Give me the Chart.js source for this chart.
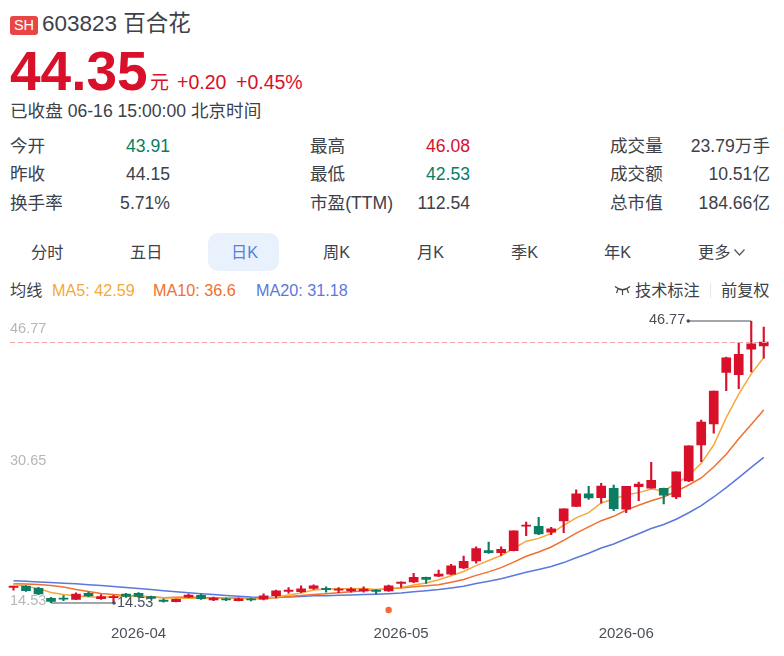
<!DOCTYPE html>
<html lang="zh-CN">
<head>
<meta charset="utf-8">
<title>603823 百合花 日K</title>
<script src="https://cdn.jsdelivr.net/npm/chart.js@4"></script>
<style>
  html, body { margin: 0; padding: 0; background: #fff; }
  body { position: relative; width: 784px; height: 656px; overflow: hidden;
         font-family: "Liberation Sans", "Noto Sans CJK SC", sans-serif; color: #3d4149; }
  .t { position: absolute; white-space: nowrap; line-height: 1; }
  .r { text-align: right; }
  .red { color: #d8102a; }
  .green { color: #0b7d62; }
  .q { font-size: 17.6px; }
  .m { font-size: 16.2px; }
  #badge { left: 10px; top: 16px; width: 28px; height: 19px; line-height: 19px; background: #e84545;
           border-radius: 3px; color: #fff; font-size: 14.5px; text-align: center; }
  #pill { position: absolute; left: 208px; top: 233px; width: 71px; height: 38px; background: #e8f1fc; border-radius: 10px; }
  #kline { position: absolute; left: 0; top: 300px; }
</style>
</head>
<body>
<div id="badge" class="t">SH</div>
<div class="t" style="left:42px;top:13px;font-size:22.5px">603823 百合花</div>
<div class="t red" style="left:10px;top:44px;font-size:55px;font-weight:bold">44.35</div>
<div class="t red" style="left:150px;top:73px;font-size:19px">元</div>
<div class="t red" style="left:177px;top:73px;font-size:19.5px">+0.20</div>
<div class="t red" style="left:236px;top:73px;font-size:19.5px">+0.45%</div>
<div class="t" style="left:10px;top:103px;font-size:17.6px">已收盘 06-16 15:00:00 北京时间</div>

<div class="t q" style="left:10px;top:138px">今开</div>
<div class="t q" style="left:10px;top:166px">昨收</div>
<div class="t q" style="left:10px;top:195px">换手率</div>
<div class="t q r green" style="right:614px;top:138px">43.91</div>
<div class="t q r" style="right:614px;top:166px">44.15</div>
<div class="t q r" style="right:614px;top:195px">5.71%</div>
<div class="t q" style="left:310px;top:138px">最高</div>
<div class="t q" style="left:310px;top:166px">最低</div>
<div class="t q" style="left:310px;top:195px">市盈(TTM)</div>
<div class="t q r red" style="right:314px;top:138px">46.08</div>
<div class="t q r green" style="right:314px;top:166px">42.53</div>
<div class="t q r" style="right:314px;top:195px">112.54</div>
<div class="t q" style="left:610px;top:138px">成交量</div>
<div class="t q" style="left:610px;top:166px">成交额</div>
<div class="t q" style="left:610px;top:195px">总市值</div>
<div class="t q r" style="right:14px;top:138px">23.79万手</div>
<div class="t q r" style="right:14px;top:166px">10.51亿</div>
<div class="t q r" style="right:14px;top:195px">184.66亿</div>

<div id="pill"></div>
<div class="t m" style="left:31px;top:244px">分时</div>
<div class="t m" style="left:130px;top:244px">五日</div>
<div class="t m" style="left:231px;top:244px;color:#5a7fd6">日K</div>
<div class="t m" style="left:323px;top:244px">周K</div>
<div class="t m" style="left:417px;top:244px">月K</div>
<div class="t m" style="left:511px;top:244px">季K</div>
<div class="t m" style="left:604px;top:244px">年K</div>
<div class="t m" style="left:698px;top:244px">更多</div>
<svg style="position:absolute;left:733px;top:248px" width="13" height="9" viewBox="0 0 13 9">
  <path d="M1.5 1.5 L6.5 7 L11.5 1.5" fill="none" stroke="#555" stroke-width="1.2"/>
</svg>

<div class="t m" style="left:10px;top:282px">均线</div>
<div class="t m" style="left:52px;top:282px;color:#f5a93b">MA5: 42.59</div>
<div class="t m" style="left:153px;top:282px;color:#f0702f">MA10: 36.6</div>
<div class="t m" style="left:256px;top:282px;color:#5b78dc">MA20: 31.18</div>
<svg style="position:absolute;left:614px;top:285px" width="17" height="11" viewBox="0 0 17 11">
  <path d="M1 1.5 Q8.5 8 16 1.5" fill="none" stroke="#444" stroke-width="1.3"/>
  <path d="M8.5 5 V10 M4 4 L2.5 8 M13 4 L14.5 8" fill="none" stroke="#444" stroke-width="1.2"/>
</svg>
<div class="t m" style="left:635px;top:282px">技术标注</div>
<div style="position:absolute;left:710px;top:283px;width:1px;height:15px;background:#e8e8e8"></div>
<div class="t m" style="left:721px;top:282px">前复权</div>

<canvas id="kline" width="784" height="356"></canvas>

<script>
// Trading days shown on the daily K-line
const dates = [
  "2026-03-18","2026-03-19","2026-03-20","2026-03-23","2026-03-24","2026-03-25","2026-03-26","2026-03-27","2026-03-30","2026-03-31",
  "2026-04-01","2026-04-02","2026-04-03","2026-04-07","2026-04-08","2026-04-09","2026-04-10","2026-04-13","2026-04-14","2026-04-15",
  "2026-04-16","2026-04-17","2026-04-20","2026-04-21","2026-04-22","2026-04-23","2026-04-24","2026-04-27","2026-04-28","2026-04-29",
  "2026-04-30","2026-05-06","2026-05-07","2026-05-08","2026-05-11","2026-05-12","2026-05-13","2026-05-14","2026-05-15","2026-05-18",
  "2026-05-19","2026-05-20","2026-05-21","2026-05-22","2026-05-25","2026-05-26","2026-05-27","2026-05-28","2026-05-29","2026-06-01",
  "2026-06-02","2026-06-03","2026-06-04","2026-06-05","2026-06-08","2026-06-09","2026-06-10","2026-06-11","2026-06-12","2026-06-15",
  "2026-06-16"
];
const monthStarts = ["2026-04-01", "2026-05-06", "2026-06-01"];

const opens = [
  16.30,16.47,16.21,15.06,15.10,14.95,15.64,15.02,15.13,15.56,
  15.64,15.25,14.87,14.68,15.21,15.41,14.87,15.02,14.79,15.02,
  14.98,15.36,15.86,15.82,16.21,16.21,16.01,15.90,15.90,16.01,
  15.90,16.78,16.93,17.47,17.61,17.84,18.53,19.33,20.51,20.28,
  20.51,23.30,23.30,22.64,23.90,25.58,27.02,26.57,27.64,25.27,
  27.82,27.67,27.64,26.65,28.48,32.59,34.99,40.90,40.63,43.54,43.91
];
const closes = [
  16.47,15.93,15.56,14.72,14.98,15.56,15.33,15.25,15.25,15.29,
  15.29,15.06,14.72,14.95,15.44,15.02,15.10,14.87,15.02,14.87,
  15.36,15.93,16.01,16.16,16.50,16.05,16.13,16.13,16.13,15.86,
  16.50,16.93,17.47,17.24,17.84,18.79,19.29,20.74,20.28,20.67,
  22.79,23.44,22.42,23.02,25.31,27.02,26.53,27.90,25.31,27.87,
  28.13,28.56,26.87,29.54,32.51,35.22,38.77,42.57,42.96,44.15,44.35
];
const highs = [
  16.47,16.53,16.32,15.18,15.38,15.70,15.78,15.48,15.41,15.64,
  15.73,15.33,15.02,14.98,15.56,15.56,15.21,15.10,15.10,15.10,
  15.59,16.01,16.28,16.50,16.62,16.39,16.28,16.28,16.39,16.05,
  16.58,16.96,17.92,17.50,18.30,18.95,19.90,20.96,21.50,20.96,
  22.79,23.79,24.32,23.18,25.31,27.48,27.87,28.21,28.02,27.87,
  28.36,30.61,27.67,29.54,32.51,35.45,38.77,42.65,44.33,46.77,46.08
];
const lows = [
  16.01,15.84,15.48,14.53,14.79,14.90,15.25,14.95,14.56,15.18,
  15.21,14.98,14.62,14.64,15.13,14.95,14.79,14.79,14.76,14.76,
  14.87,15.10,15.64,15.70,16.09,15.78,15.70,15.78,15.78,15.56,
  15.86,16.32,16.85,16.78,17.53,17.76,18.45,19.07,20.21,19.98,
  20.47,22.22,22.34,22.34,22.56,25.54,26.38,25.93,25.08,24.85,
  26.22,27.67,25.85,26.45,28.40,30.68,33.96,38.80,39.03,40.94,42.53
];
const ma5 = [
  16.70,16.41,16.18,15.73,15.50,15.33,15.25,15.17,15.27,15.33,
  15.27,15.22,15.12,15.08,15.10,15.04,15.04,15.10,15.10,14.98,
  15.04,15.21,15.44,15.67,16.01,16.14,16.17,16.17,16.18,16.06,
  16.17,16.31,16.59,16.81,17.19,17.65,18.13,18.80,19.39,19.96,
  20.76,21.60,21.92,22.47,23.42,24.26,24.86,25.96,26.42,26.90,
  27.15,27.56,27.34,28.19,29.13,30.50,32.59,35.72,38.42,40.73,42.59
];
const ma10 = [
  16.72,16.70,16.64,16.53,16.36,16.07,15.84,15.61,15.50,15.38,
  15.29,15.24,15.14,15.18,15.21,15.16,15.14,15.11,15.09,15.04,
  15.04,15.12,15.27,15.38,15.50,15.59,15.69,15.81,15.92,16.04,
  16.15,16.24,16.38,16.49,16.62,16.91,17.21,17.69,18.09,18.57,
  19.20,19.87,20.36,20.93,21.68,22.51,23.23,23.94,24.44,25.16,
  25.70,26.21,26.65,27.30,28.02,28.82,30.08,31.53,33.31,34.93,36.60
];
const ma20 = [
  17.07,17.01,16.94,16.87,16.80,16.72,16.62,16.52,16.41,16.30,
  16.18,16.06,15.93,15.81,15.69,15.59,15.49,15.40,15.29,15.21,
  15.17,15.18,15.21,15.28,15.35,15.37,15.42,15.45,15.50,15.53,
  15.59,15.68,15.82,15.93,16.06,16.24,16.45,16.75,17.01,17.31,
  17.67,18.05,18.37,18.71,19.15,19.71,20.22,20.82,21.27,21.87,
  22.45,23.04,23.50,24.11,24.85,25.66,26.65,27.73,28.87,30.04,31.18
];

const axisValues = [14.53, 30.65, 46.77];
const lastPrice = 44.35;
const eventDate = "2026-04-30";

const UP = "#d8102a";
const DOWN = "#0b7d62";
const candleColor = closes.map((c, i) => (c >= opens[i] ? UP : DOWN));

// Axis values, the last-price rule, high/low callouts and the event dot
const overlays = {
  id: "overlays",
  afterDatasetsDraw(chart) {
    const { ctx, chartArea, scales } = chart;
    const x = scales.x, y = scales.y;
    const FONT = '14.5px "Liberation Sans", sans-serif';
    ctx.save();

    ctx.strokeStyle = "#f2a3a3";
    ctx.lineWidth = 1;
    ctx.setLineDash([5, 3]);
    const py = Math.round(y.getPixelForValue(lastPrice)) + 0.5;
    ctx.beginPath();
    ctx.moveTo(10, py);
    ctx.lineTo(chartArea.right, py);
    ctx.stroke();
    ctx.setLineDash([]);

    ctx.font = FONT;
    ctx.fillStyle = "#b4b6ba";
    ctx.textAlign = "left";
    ctx.textBaseline = "middle";
    const nudge = [-2, -1, 8];
    axisValues.forEach((v, i) => {
      ctx.fillText(v.toFixed(2), 10, y.getPixelForValue(v) + nudge[i]);
    });

    const callout = (value, dir) => {
      const idx = dir > 0 ? lows.indexOf(value) : highs.indexOf(value);
      const fromX = x.getPixelForValue(idx);
      const py2 = y.getPixelForValue(value);
      const toX = fromX + dir * 63;
      ctx.strokeStyle = "#4b4f5a";
      ctx.fillStyle = "#4b4f5a";
      ctx.lineWidth = 1.2;
      ctx.beginPath();
      ctx.moveTo(fromX, py2);
      ctx.lineTo(toX, py2);
      ctx.stroke();
      ctx.beginPath();
      ctx.arc(toX, py2, 1.8, 0, Math.PI * 2);
      ctx.fill();
      ctx.textAlign = dir > 0 ? "left" : "right";
      ctx.fillText(value.toFixed(2), toX + dir * 3, py2 - (dir > 0 ? 0 : 1));
    };
    callout(Math.max(...highs), -1);
    callout(Math.min(...lows), 1);

    ctx.fillStyle = "#f4683a";
    ctx.beginPath();
    ctx.arc(x.getPixelForValue(dates.indexOf(eventDate)), chartArea.bottom + 7, 3.2, 0, Math.PI * 2);
    ctx.fill();
    ctx.restore();
  }
};

const maLine = (label, data, color) => ({
  type: "line", label, data,
  borderColor: color, borderWidth: 1.5, pointRadius: 0, tension: 0, order: 3
});

new Chart(document.getElementById("kline"), {
  data: {
    labels: dates,
    datasets: [
      maLine("MA5", ma5, "#f5a93b"),
      maLine("MA10", ma10, "#f0702f"),
      maLine("MA20", ma20, "#5b78dc"),
      {
        type: "bar", label: "影线",
        data: lows.map((l, i) => [l, highs[i]]),
        backgroundColor: candleColor, barThickness: 1.5, grouped: false, order: 2
      },
      {
        type: "bar", label: "K线",
        data: opens.map((o, i) => [o, closes[i]]),
        backgroundColor: candleColor, barThickness: 9, minBarLength: 1, grouped: false, order: 1
      }
    ]
  },
  options: {
    responsive: false,
    animation: false,
    layout: { padding: { top: 21, left: 7.25, right: 14, bottom: 0 } },
    plugins: { legend: { display: false }, tooltip: { enabled: false } },
    scales: {
      x: {
        grid: { display: false, drawTicks: false },
        border: { display: false },
        afterFit(s) { s.height = 53; s.paddingLeft = 0; s.paddingRight = 0; },
        ticks: {
          autoSkip: false, maxRotation: 0, padding: 22,
          font: { size: 15, family: '"Liberation Sans", sans-serif' },
          color: "#4b4f5a",
          callback(v, i) { return monthStarts.includes(dates[i]) ? dates[i].slice(0, 7) : ""; }
        }
      },
      y: {
        display: false,
        min: 14.53, max: 46.77
      }
    }
  },
  plugins: [overlays]
});
</script>
</body>
</html>
